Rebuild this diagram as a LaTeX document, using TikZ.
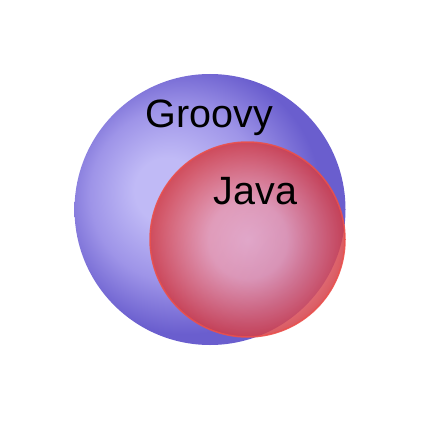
\documentclass[tikz,border=0pt]{standalone}
\usepackage{fontspec}
\setmainfont{Liberation Sans}
\usepackage{xcolor}
\usepackage{tikz}

\definecolor{groovylight}{RGB}{192,186,246}
\definecolor{groovymid}{RGB}{158,148,232}
\definecolor{groovydark}{RGB}{106,94,206}
\definecolor{javalight}{RGB}{236,170,196}
\definecolor{javadark}{RGB}{212,60,68}
\definecolor{javaedge}{RGB}{234,80,76}

\pgfdeclareradialshading{groovyshade}{\pgfpoint{-9bp}{4bp}}{%
  color(0bp)=(groovylight); color(6bp)=(groovylight);
  color(16bp)=(groovymid); color(25bp)=(groovydark); color(50bp)=(groovydark)}
\pgfdeclareradialshading{javashade}{\pgfpoint{0bp}{0bp}}{%
  color(0bp)=(javalight); color(10bp)=(javalight!85!javadark);
  color(25bp)=(javadark); color(50bp)=(javadark)}

\begin{document}
\begin{tikzpicture}[
      x=1pt, y=-1pt,
      lbl/.style={font=\fontsize{39.5}{46}\selectfont, text=black, inner sep=0pt, anchor=base},
      groovy_style/.style={shading=groovyshade},
      java_style/.style={shading=javashade, fill opacity=0.85},
      java_edge/.style={draw=javaedge, line width=1.5pt, draw opacity=0.9}
  ]
  \useasboundingbox (0, 0) rectangle (425, 425);

  % 1. Cerchio Groovy
  \shade[groovy_style] (210, 209.5) circle (135.5);

  % 2. Cerchio Java (sopra, semitrasparente)
  \shade[java_style] (247.5, 239.5) circle (97.5);
  \draw[java_edge] (247.5, 239.5) circle (97.5);

  % 3. Etichette
  \node[lbl] (groovy_lbl) at (209.5, 128) {Groovy};
  \node[lbl] (java_lbl) at (255.5, 204) {Java};

\end{tikzpicture}
\end{document}
